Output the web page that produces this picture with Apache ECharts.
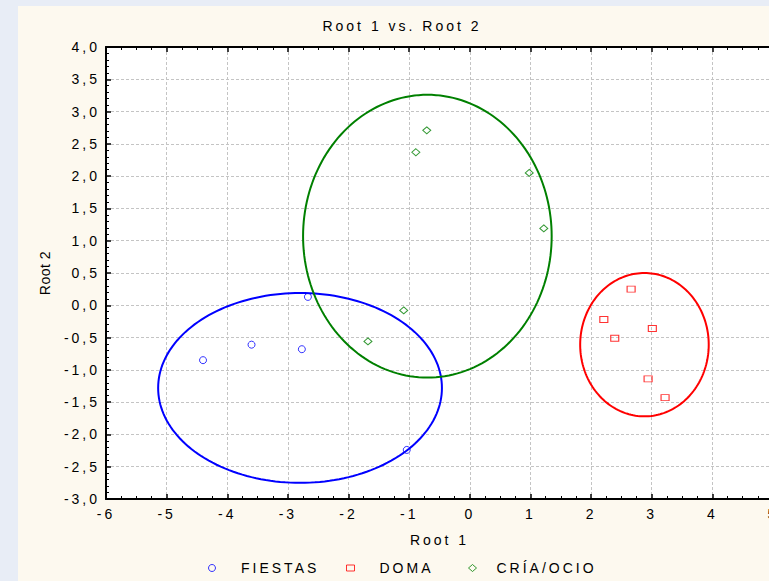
<!DOCTYPE html>
<html>
<head>
<meta charset="utf-8">
<script src="https://cdn.jsdelivr.net/npm/echarts@6/dist/echarts.min.js"></script>
<style>
  html, body { margin: 0; padding: 0; width: 769px; height: 581px; overflow: hidden; background: #e8edf6; }
  #chart { position: absolute; left: 18px; top: 6px; width: 751px; height: 575px; }
  /* statistica draws its text wide, spread the letters a bit */
  #chart svg text { letter-spacing: 3px; }
  /* rotated axis name stays compact */
  #chart svg text[transform^="matrix(0"] { letter-spacing: 0.5px; }
</style>
</head>
<body>
<div id="chart"></div>
<script>
// group scores (Root 1, Root 2)
const fiestasX = [-4.40, -3.60, -2.77, -2.67, -1.04];
const fiestasY = [-0.85, -0.61, -0.68, 0.13, -2.24];

const domaX = [2.66, 2.21, 3.01, 2.39, 2.94, 3.22];
const domaY = [0.25, -0.22, -0.36, -0.51, -1.14, -1.43];

const criaX = [-0.71, -0.89, 0.98, 1.22, -1.09, -1.68];
const criaY = [2.71, 2.37, 2.05, 1.19, -0.08, -0.56];

// confidence ellipses: [centre x, centre y, radius x, radius y]
const fiestasEllipse = [-2.80, -1.28, 2.34, 1.47];
const domaEllipse = [2.88, -0.61, 1.06, 1.11];
const criaEllipse = [-0.70, 1.07, 2.05, 2.19];

const groupNames = ['FIESTAS', 'DOMA', 'CRÍA/OCIO'];
const groupColors = ['#0000ff', '#ff0000', '#008000'];

const FONT = 'Arial, Liberation Sans, sans-serif';
const RECT = 'path://M0,0H8V6H0Z';
const DIAMOND = 'path://M4,0L8,3.5L4,7L0,3.5Z';

const zip = (xs, ys) => xs.map((x, i) => [x, ys[i]]);

const chart = echarts.init(document.getElementById('chart'), null, { renderer: 'svg' });

// ellipse outline drawn through the axes
const ellipseSeries = (name, params, color) => ({
  type: 'custom',
  name: name,
  data: [params],
  silent: true,
  clip: true,
  z: 1,
  renderItem: (p, api) => {
    const cx = api.value(0), cy = api.value(1), rx = api.value(2), ry = api.value(3);
    const pts = [];
    for (let i = 0; i < 180; i++) {
      const t = i / 180 * Math.PI * 2;
      pts.push(api.coord([cx + rx * Math.cos(t), cy + ry * Math.sin(t)]));
    }
    return {
      type: 'polygon',
      shape: { points: pts },
      style: { fill: 'none', stroke: color, lineWidth: 2 }
    };
  }
});

const scatterSeries = (name, data, symbol, size, color) => ({
  type: 'scatter',
  name: name,
  data: data,
  symbol: symbol,
  symbolSize: size,
  z: 3,
  itemStyle: { color: 'rgba(0,0,0,0)', borderColor: color, borderWidth: 1 }
});

const legendItem = (name, icon, left, w, h, color) => ({
  data: [name],
  icon: icon,
  left: left,
  top: 555,
  padding: 0,
  itemWidth: w,
  itemHeight: h,
  selectedMode: false,
  itemStyle: { color: 'rgba(0,0,0,0)', borderColor: color, borderWidth: 1 },
  textStyle: { color: '#000', fontSize: 14, fontFamily: FONT }
});

const tickStyle = { color: '#000', width: 1.5 };
const splitStyle = { color: '#c4c4c4', width: 1, type: [3, 2] };

const option = {
  backgroundColor: '#fdf9ef',
  animation: false,
  title: {
    text: 'Root 1 vs. Root 2',
    left: 384,
    top: 13,
    padding: 0,
    textAlign: 'center',
    textStyle: { color: '#000', fontSize: 14, fontWeight: 'normal', fontFamily: FONT }
  },
  legend: [
    legendItem(groupNames[0], 'circle', 190, 48, 7, groupColors[0]),
    legendItem(groupNames[1], RECT, 328, 48, 6, groupColors[1]),
    legendItem(groupNames[2], DIAMOND, 450, 38, 7, groupColors[2])
  ],
  grid: {
    left: 88,
    top: 41,
    width: 667,
    height: 452,
    outerBoundsMode: 'none',
    show: true,
    backgroundColor: '#ffffff',
    borderWidth: 0
  },
  xAxis: [
    {
      type: 'value',
      min: -6,
      max: 5,
      interval: 1,
      name: 'Root 1',
      nameLocation: 'middle',
      nameGap: 34,
      nameTextStyle: { color: '#000', fontSize: 14, fontFamily: FONT },
      axisLine: { onZero: false, lineStyle: { color: '#000', width: 2 } },
      axisTick: { inside: true, length: 5, lineStyle: tickStyle },
      minorTick: { show: true, splitNumber: 4, length: 3, lineStyle: { color: '#000', width: 1 } },
      axisLabel: { color: '#000', fontSize: 14, fontFamily: FONT, margin: 8 },
      splitLine: { show: true, lineStyle: splitStyle }
    },
    {
      type: 'value',
      position: 'top',
      min: -6,
      max: 5,
      interval: 1,
      axisLine: { onZero: false, lineStyle: { color: '#000', width: 2 } },
      axisTick: { inside: true, length: 5, lineStyle: tickStyle },
      minorTick: { show: true, splitNumber: 4, length: 3, lineStyle: { color: '#000', width: 1 } },
      axisLabel: { show: false },
      splitLine: { show: false }
    }
  ],
  yAxis: {
    type: 'value',
    min: -3,
    max: 4,
    interval: 0.5,
    name: 'Root 2',
    nameLocation: 'middle',
    nameGap: 54,
    nameTextStyle: { color: '#000', fontSize: 14, fontFamily: FONT },
    axisLine: { onZero: false, lineStyle: { color: '#000', width: 2 } },
    axisTick: { inside: true, length: 5, lineStyle: tickStyle },
    minorTick: { show: true, splitNumber: 5, length: 3, lineStyle: { color: '#000', width: 1 } },
    axisLabel: {
      color: '#000',
      fontSize: 14,
      fontFamily: FONT,
      margin: 6,
      formatter: v => v.toFixed(1).replace('.', ',')
    },
    splitLine: { show: true, lineStyle: splitStyle }
  },
  series: [
    ellipseSeries('FIESTAS elipse', fiestasEllipse, groupColors[0]),
    ellipseSeries('DOMA elipse', domaEllipse, groupColors[1]),
    ellipseSeries('CRÍA/OCIO elipse', criaEllipse, groupColors[2]),
    scatterSeries(groupNames[0], zip(fiestasX, fiestasY), 'circle', 7, groupColors[0]),
    scatterSeries(groupNames[1], zip(domaX, domaY), RECT, [8, 6], groupColors[1]),
    scatterSeries(groupNames[2], zip(criaX, criaY), DIAMOND, [8, 7], groupColors[2])
  ]
};

chart.setOption(option);
</script>
</body>
</html>
